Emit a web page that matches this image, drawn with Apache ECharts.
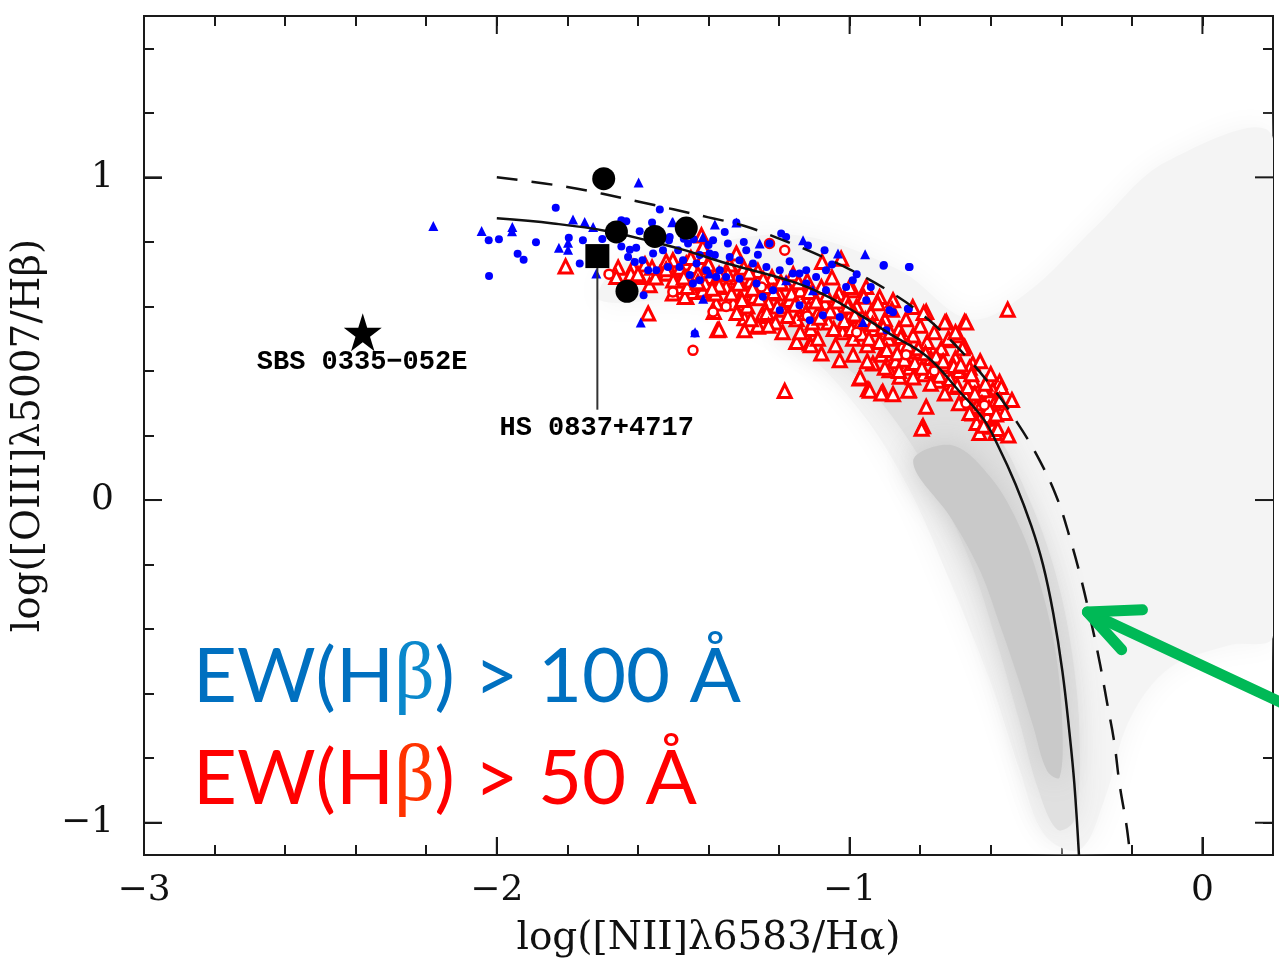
<!DOCTYPE html>
<html>
<head>
<meta charset="utf-8">
<script src="https://cdn.jsdelivr.net/npm/echarts@6/dist/echarts.min.js"></script>
<style>
  html, body { margin: 0; padding: 0; background: #fff; }
  #chartDiv { width: 1279px; height: 973px; }
</style>
</head>
<body>
<div id="chartDiv"></div>
<script>
// tick values
const xMajorTicks = [-3, -2, -1, 0];
const yMajorTicks = [-1, 0, 1];
const yMinorTicks = [-1, -0.8, -0.6, -0.4, -0.2, 0, 0.2, 0.4, 0.6, 0.8, 1, 1.2, 1.4];

// SDSS cloud, drawn as three density outlines (faint haze, band, core)
const cloudHaze = [[-1.708,0.619],[-1.425,0.619],[-1.170,0.495],[-0.972,0.279],[-0.830,0.031],[-0.717,-0.248],
  [-0.603,-0.557],[-0.518,-0.836],[-0.448,-1.037],[-0.348,-1.084],[-0.278,-0.929],[-0.207,-0.681],[-0.093,-0.52],
  [0.076,-0.45],[0.2,-0.42],[0.2,1.12],[-0.1,1.05],[-0.3,0.85],[-0.5,0.64],[-0.660,0.56],[-0.858,0.712],
  [-1.142,0.820],[-1.425,0.789],[-1.652,0.728]];
const cloudBand = [[-1.198,0.526],[-1.0,0.402],[-0.88,0.26],[-0.77,0.07],[-0.66,-0.186],[-0.585,-0.433],
  [-0.52,-0.681],[-0.465,-0.898],[-0.411,-1.022],[-0.363,-0.991],[-0.348,-0.743],[-0.371,-0.464],[-0.419,-0.217],
  [-0.490,0.0],[-0.589,0.217],[-0.717,0.372],[-0.887,0.495],[-1.057,0.573]];
const cloudCore = [[-0.82,0.12],[-0.71,-0.06],[-0.63,-0.22],[-0.57,-0.40],[-0.52,-0.56],[-0.48,-0.70],
  [-0.44,-0.84],[-0.405,-0.86],[-0.397,-0.70],[-0.415,-0.48],[-0.455,-0.28],[-0.515,-0.09],[-0.60,0.07],
  [-0.71,0.17]];
const cloudLayers = [cloudHaze, cloudBand, cloudCore];

// EW(Hb) > 50 A sample
const redTriangles = [
  [-1.805,0.724],[-1.656,0.72],[-1.661,0.691],[-1.614,0.722],[-1.595,0.691],[-1.567,0.666],[-1.538,0.702],[-1.501,0.722],
  [-1.482,0.66],[-1.463,0.629],[-1.444,0.645],[-1.42,0.82],[-1.387,0.64],[-1.378,0.609],[-1.571,0.578],[-1.375,0.526],
  [-1.51,0.712],[-1.463,0.733],[-1.415,0.753],[-1.406,0.722],[-1.397,0.691],[-1.37,0.528],[-1.385,0.583],[-1.501,0.64],
  [-1.467,0.629],[-1.416,0.65],[-1.519,0.702],[-1.482,0.681],[-1.444,0.722],[-1.501,0.743],[-1.416,0.784],[-1.321,0.764],
  [-1.024,0.748],[-1.078,0.738],[-1.298,0.563],[-1.298,0.526],[-1.26,0.537],[-1.184,0.338],[-1.151,0.49],[-1.113,0.485],
  [-1.08,0.454],[-1.028,0.433],[-0.972,0.377],[-0.948,0.343],[-0.906,0.335],[-0.877,0.328],[-0.832,0.341],[-0.792,0.229],
  [-0.783,0.289],[-0.934,0.423],[-0.887,0.402],[-0.858,0.382],[-0.821,0.598],[-0.783,0.583],[-0.726,0.552],[-0.674,0.552],
  [-0.693,0.511],[-0.717,0.495],[-0.674,0.475],[-0.651,0.423],[-0.552,0.59],[-0.575,0.366],[-0.594,0.341],[-0.603,0.32],
  [-0.651,0.268],[-0.632,0.248],[-0.603,0.258],[-0.594,0.227],[-0.877,0.619],[-0.915,0.629],[-0.953,0.66],[-0.991,0.65],
  [-0.943,0.339],[-0.833,0.339],[-0.796,0.221],[-0.640,0.239],[-0.601,0.252],[-0.587,0.208],[-0.632,0.208],
  [-1.62,0.70],[-1.58,0.73],[-1.55,0.69],[-1.52,0.74],[-1.50,0.68],[-1.48,0.72],[-1.46,0.66],[-1.45,0.75],[-1.43,0.70],
  [-1.41,0.67],[-1.40,0.73],[-1.38,0.64],[-1.37,0.70],[-1.35,0.66],[-1.34,0.73],[-1.33,0.61],[-1.32,0.69],[-1.30,0.65],
  [-1.30,0.72],[-1.29,0.60],[-1.28,0.68],[-1.27,0.63],[-1.26,0.71],[-1.25,0.57],[-1.24,0.66],[-1.23,0.61],[-1.22,0.69],
  [-1.21,0.55],[-1.20,0.64],[-1.19,0.59],[-1.18,0.67],[-1.17,0.62],[-1.16,0.70],[-1.15,0.56],[-1.14,0.65],[-1.13,0.60],
  [-1.12,0.68],[-1.11,0.53],[-1.10,0.63],[-1.09,0.58],[-1.08,0.66],[-1.07,0.61],[-1.06,0.55],[-1.05,0.69],[-1.04,0.59],
  [-1.03,0.64],[-1.02,0.52],[-1.01,0.62],[-1.00,0.57],[-1.00,0.66],[-0.99,0.50],[-0.98,0.60],[-0.97,0.55],[-0.96,0.63],
  [-0.95,0.48],[-0.94,0.58],[-0.93,0.53],[-0.92,0.61],[-0.91,0.45],[-0.90,0.56],[-0.89,0.50],[-0.88,0.59],[-0.87,0.43],
  [-0.86,0.53],[-0.85,0.48],[-0.84,0.56],[-0.83,0.41],[-0.82,0.51],[-0.81,0.46],[-0.80,0.54],[-0.79,0.39],[-0.78,0.49],
  [-0.77,0.44],[-0.76,0.52],[-0.75,0.37],[-0.74,0.47],[-0.73,0.42],[-0.72,0.50],[-0.71,0.35],[-0.70,0.44],[-0.69,0.40],
  [-0.68,0.47],[-0.67,0.32],[-0.66,0.41],[-0.65,0.37],[-0.64,0.29],[-0.63,0.43],[-0.62,0.34],[-0.61,0.26],[-0.60,0.39],
  [-0.59,0.30],[-0.58,0.22],[-0.57,0.35],[-0.56,0.27],[-0.55,0.20],[-0.54,0.31],
  [-1.26,0.54],[-1.15,0.49],[-1.11,0.48],[-0.97,0.38],[-0.91,0.33],[-0.70,0.52],[-0.67,0.55],[-0.73,0.55],[-0.79,0.58],
  [-1.345,0.70],[-1.335,0.64],[-1.315,0.67],[-1.305,0.62],[-1.285,0.705],[-1.275,0.655],[-1.255,0.625],[-1.245,0.685],
  [-1.235,0.58],[-1.215,0.645],[-1.205,0.60],[-1.195,0.675],[-1.175,0.57],[-1.165,0.64],[-1.155,0.605],[-1.145,0.675],
  [-1.125,0.58],[-1.115,0.645],[-1.105,0.55],[-1.095,0.615],[-1.085,0.565],[-1.065,0.635],[-1.055,0.585],[-1.045,0.53],
  [-1.035,0.615],[-1.015,0.555],[-1.005,0.60],[-0.995,0.53],[-0.985,0.575],[-0.965,0.515],[-0.955,0.56],[-0.945,0.50],
  [-0.935,0.545],[-0.915,0.49],[-0.905,0.535],[-0.895,0.465],[-0.885,0.52],[-0.865,0.455],[-0.855,0.505],[-0.845,0.435],
  [-0.835,0.48],[-0.815,0.425],[-0.805,0.47],[-0.795,0.41],[-0.785,0.455],[-0.765,0.40],[-0.755,0.445],[-0.745,0.385],
  [-0.735,0.43],[-0.715,0.375],[-0.705,0.415],[-0.695,0.355],[-0.685,0.42],[-0.665,0.35],[-0.655,0.39],[-0.645,0.33],
  [-0.625,0.30],[-0.615,0.36],[-0.605,0.285],[-0.585,0.265],[-0.575,0.31],[-1.37,0.665],[-1.39,0.655],[-1.43,0.675],
  [-1.47,0.69],[-1.52,0.715],[-1.56,0.72],[-1.60,0.70],
  [-1.32,0.58],[-1.28,0.56],[-1.23,0.54],[-1.19,0.52],[-1.14,0.52],[-1.09,0.50],[-1.04,0.48],[-0.99,0.45],[-0.95,0.43],
  [-0.90,0.41],[-0.86,0.40],[-0.82,0.38],[-0.77,0.36],[-0.73,0.33],[-0.69,0.30],[-0.66,0.27],[-0.62,0.23]
];
const redCircles = [[-1.682,0.70],[-1.501,0.645],[-1.387,0.583],[-1.444,0.464],[-1.184,0.774],[-1.227,0.795],
  [-0.618,0.294],[-1.35,0.60],[-1.25,0.66],[-1.12,0.57],[-0.98,0.52],[-0.84,0.45],[-0.76,0.40],[-0.67,0.30]];

// EW(Hb) > 100 A sample
const blueTriangles = [[-2.18,0.849],[-2.043,0.834],[-1.956,0.846],[-1.957,0.833],[-1.784,0.869],[-1.751,0.862],
  [-1.727,0.846],[-1.824,0.782],[-1.798,0.797],[-1.798,0.776],[-1.718,0.702],[-1.598,0.984],[-1.503,0.861],[-1.382,0.854],
  [-1.592,0.55],[-1.438,0.52],[-1.415,0.624],[-1.501,0.862],[-1.416,0.815],[-1.321,0.86],[-1.255,0.795],[-1.132,0.805],
  [-1.033,0.764],[-0.956,0.762],[-1.180,0.681],[-1.104,0.65],[-0.962,0.552],[-1.397,0.702]];
const blueDots = [[-2.023,0.805],[-1.994,0.808],[-1.889,0.799],[-1.941,0.763],[-1.924,0.745],[-2.022,0.694],
  [-1.833,0.906],[-1.538,0.90],[-1.796,0.813],[-1.756,0.805],[-1.701,0.809],[-1.647,0.867],[-1.633,0.864],[-1.595,0.833],
  [-1.56,0.86],[-1.647,0.786],[-1.623,0.776],[-1.605,0.782],[-1.628,0.753],[-1.609,0.738],[-1.587,0.743],[-1.584,0.635],
  [-1.765,0.733],[-1.512,0.805],[-1.486,0.774],[-1.515,0.722],[-1.472,0.743],[-1.434,0.733],[-1.453,0.697],[-1.425,0.681],
  [-1.397,0.764],[-1.387,0.805],[-1.442,0.808],[-1.406,0.712],[-1.378,0.691],[-1.557,0.764],[-1.548,0.712],[-1.571,0.712],
  [-1.321,0.86],[-1.354,0.831],[-1.345,0.795],[-1.382,0.759],[-1.425,0.759],[-1.293,0.774],[-1.227,0.795],[-1.194,0.826],
  [-1.18,0.815],[-1.118,0.789],[-1.071,0.774],[-0.903,0.728],[-0.832,0.722],[-1.34,0.753],[-1.312,0.743],[-1.274,0.733],
  [-1.236,0.722],[-1.198,0.712],[-1.161,0.702],[-1.123,0.712],[-1.095,0.691],[-1.067,0.712],[-1.35,0.691],[-1.312,0.686],
  [-1.264,0.671],[-1.246,0.63],[-1.217,0.65],[-1.142,0.702],[-1.123,0.671],[-1.067,0.65],[-1.01,0.66],[-0.991,0.681],
  [-0.953,0.619],[-0.887,0.588],[-0.835,0.593],[-1.198,0.588],[-1.142,0.604],[-1.076,0.573],[-1.113,0.557],[-1.028,0.567],
  [-0.896,0.526],[-1.439,0.516],[-1.51,0.815],[-1.529,0.774],[-1.458,0.795],[-1.482,0.722],[-1.444,0.671],[-1.368,0.712],
  [-0.904,0.726],[-0.830,0.722],[-0.877,0.582],[-0.832,0.592],
  [-1.30,0.80],[-1.26,0.76],[-1.17,0.74],[-1.05,0.73],[-0.98,0.70],[-0.94,0.66],[-1.40,0.79],[-1.47,0.81]];

// named objects
const bigCircles = [[-1.697,0.996],[-1.661,0.831],[-1.552,0.817],[-1.463,0.843],[-1.631,0.647]];
const hsSquare = [[-1.715,0.756]];
const sbsStar = [[-2.38,0.52]];
const hsLeader = [[-1.715,0.756],[-1.715,0.28]];
const objectLabels = [[-2.382,0.427,'SBS 0335\u2212052E'],[-1.717,0.223,'HS 0837+4717']];

// demarcation curves
const solidCurve = [[-2.00,0.873],[-1.84,0.857],[-1.69,0.834],[-1.55,0.798],[-1.46,0.772],[-1.36,0.737],[-1.16,0.676],
  [-1.07,0.635],[-0.97,0.573],[-0.88,0.511],[-0.78,0.444],[-0.69,0.338],[-0.62,0.25],[-0.58,0.17],[-0.53,0.05],
  [-0.485,-0.08],[-0.452,-0.2],[-0.423,-0.35],[-0.397,-0.53],[-0.377,-0.72],[-0.363,-0.88],[-0.35,-1.1]];
const dashedCurve = [[-2.00,1.00],[-1.80,0.97],[-1.60,0.925],[-1.40,0.876],[-1.30,0.85],[-1.20,0.81],[-1.10,0.765],
  [-1.00,0.715],[-0.90,0.655],[-0.80,0.58],[-0.70,0.48],[-0.60,0.355],[-0.525,0.24],[-0.46,0.12],[-0.41,0.0],
  [-0.375,-0.12],[-0.345,-0.24],[-0.315,-0.38],[-0.29,-0.51],[-0.27,-0.63],[-0.25,-0.75],[-0.235,-0.88],[-0.215,-1.01],
  [-0.205,-1.1]];

// green arrow annotation
const arrowShaft = [[-0.326,-0.347],[0.224,-0.628]];
const arrowHead = [[-0.17,-0.34],[-0.326,-0.347],[-0.229,-0.464]];

const X_MIN = -3, X_MAX = 0.2, Y_MIN = -1.1, Y_MAX = 1.5;

const chart = echarts.init(document.getElementById('chartDiv'));

const SERIF = 'DejaVu Serif';
const AXIS_COLOR = '#1a1a1a';
const MAJOR_LEN = 18;
const cloudFills = ['#f4f4f4', '#e0e0e0', '#c9c9c9'];

function fmtTick(v) {
  return v < 0 ? '\u2212' + Math.abs(v) : String(v);
}

function renderCloud(params, api) {
  const poly = cloudLayers[params.dataIndex];
  const pts = poly.map(p => api.coord(p));
  const fill = cloudFills[params.dataIndex];
  return {
    type: 'polygon',
    shape: { points: pts, smooth: 0.35 },
    style: { fill: fill, shadowBlur: 30, shadowColor: fill }
  };
}

// long ticks on all four sides of the frame
function renderMajorTicks(params, api) {
  const st = { stroke: AXIS_COLOR, lineWidth: 2 };
  const children = [];
  xMajorTicks.forEach(v => {
    const b = api.coord([v, Y_MIN]);
    const t = api.coord([v, Y_MAX]);
    children.push({ type: 'line', shape: { x1: b[0], y1: b[1], x2: b[0], y2: b[1] - MAJOR_LEN }, style: st });
    children.push({ type: 'line', shape: { x1: t[0], y1: t[1], x2: t[0], y2: t[1] + MAJOR_LEN }, style: st });
  });
  yMajorTicks.forEach(v => {
    const l = api.coord([X_MIN, v]);
    const r = api.coord([X_MAX, v]);
    children.push({ type: 'line', shape: { x1: l[0], y1: l[1], x2: l[0] + MAJOR_LEN, y2: l[1] }, style: st });
    children.push({ type: 'line', shape: { x1: r[0], y1: r[1], x2: r[0] - MAJOR_LEN, y2: r[1] }, style: st });
  });
  return { type: 'group', children: children };
}

// axes only carry ticks/labels; the frame itself is the grid border
function xTickAxis(position, interval, len, extra) {
  return Object.assign({
    type: 'value', position: position, min: X_MIN, max: X_MAX, interval: interval,
    splitLine: { show: false },
    axisLine: { show: false, onZero: false },
    axisLabel: { show: false },
    axisTick: { show: true, inside: true, length: len, lineStyle: { color: AXIS_COLOR, width: 2 } }
  }, extra || {});
}

function yTickAxis(position, ticks, len, extra) {
  return Object.assign({
    type: 'value', position: position, min: Y_MIN, max: Y_MAX,
    splitLine: { show: false },
    axisLine: { show: false, onZero: false },
    axisLabel: { show: false },
    axisTick: {
      show: true, inside: true, length: len, customValues: ticks,
      lineStyle: { color: AXIS_COLOR, width: 2 }
    }
  }, extra || {});
}

const option = {
  animation: false,
  backgroundColor: '#fff',
  grid: {
    left: 144, right: 6, top: 16, bottom: 118, containLabel: false,
    show: true, borderColor: AXIS_COLOR, borderWidth: 2, backgroundColor: 'transparent'
  },
  xAxis: [
    xTickAxis('bottom', 0.2, 10),
    xTickAxis('bottom', 1, MAJOR_LEN, {
      axisLabel: {
        show: true, showMaxLabel: false, formatter: fmtTick, margin: 18,
        fontFamily: SERIF, fontSize: 36, color: '#111'
      },
      name: 'log([NII]\u03bb6583/H\u03b1)',
      nameLocation: 'middle',
      nameGap: 64,
      nameTextStyle: { fontFamily: SERIF, fontSize: 39, color: '#111' }
    }),
    xTickAxis('top', 0.2, 10)
  ],
  yAxis: [
    yTickAxis('left', yMinorTicks, 10),
    yTickAxis('left', yMajorTicks, MAJOR_LEN, {
      axisLabel: {
        show: true, customValues: yMajorTicks, formatter: fmtTick, margin: 30,
        fontFamily: SERIF, fontSize: 36, color: '#111'
      },
      name: 'log([OIII]\u03bb5007/H\u03b2)',
      nameLocation: 'middle',
      nameRotate: 90,
      nameGap: 96,
      nameTextStyle: { fontFamily: SERIF, fontSize: 39, color: '#111' }
    }),
    yTickAxis('right', yMinorTicks, 10)
  ],
  series: [
    {
      type: 'custom', name: 'SDSS', renderItem: renderCloud, clip: true, silent: true, z: 1,
      data: cloudLayers.map(l => l[0])
    },
    {
      type: 'scatter', name: 'EW50 tri', data: redTriangles, symbol: 'triangle', symbolSize: 13, z: 2,
      itemStyle: { color: '#fff', borderColor: '#ff0000', borderWidth: 3, opacity: 1 }
    },
    {
      type: 'scatter', name: 'EW50 circ', data: redCircles, symbol: 'circle', symbolSize: 9, z: 2,
      itemStyle: { color: '#fff', borderColor: '#ff0000', borderWidth: 2.5, opacity: 1 }
    },
    {
      type: 'scatter', name: 'EW100 dot', data: blueDots, symbol: 'circle', symbolSize: 8, z: 3,
      itemStyle: { color: '#0000ff', opacity: 1 }
    },
    {
      type: 'scatter', name: 'EW100 tri', data: blueTriangles, symbol: 'triangle', symbolSize: 10, z: 3,
      itemStyle: { color: '#0000ff', opacity: 1 }
    },
    {
      type: 'line', name: 'solid', data: solidCurve, showSymbol: false, smooth: 0.4, z: 4, silent: true,
      lineStyle: { color: '#111', width: 2.5 }
    },
    {
      type: 'line', name: 'dashed', data: dashedCurve, showSymbol: false, smooth: 0.4, z: 4, silent: true,
      lineStyle: { color: '#111', width: 2.5, type: [21, 14] }
    },
    {
      type: 'line', name: 'leader', data: hsLeader, showSymbol: false, z: 5, silent: true,
      lineStyle: { color: '#333', width: 2 }
    },
    {
      type: 'scatter', name: 'objects', data: bigCircles, symbol: 'circle', symbolSize: 23, z: 6,
      itemStyle: { color: '#000', opacity: 1 }
    },
    {
      type: 'scatter', name: 'HS 0837', data: hsSquare, symbol: 'rect', symbolSize: 24, z: 6,
      itemStyle: { color: '#000', opacity: 1 }
    },
    {
      type: 'scatter', name: 'SBS 0335', data: sbsStar, z: 6,
      symbol: 'path://M50,0 L61.2,34.5 L97.6,34.5 L68.2,55.9 L79.4,90.5 L50,69.1 L20.6,90.5 L31.8,55.9 L2.4,34.5 L38.8,34.5 Z',
      symbolSize: 38, itemStyle: { color: '#000', opacity: 1 }
    },
    {
      type: 'scatter', name: 'labels', data: objectLabels, symbolSize: 0, z: 7, silent: true,
      itemStyle: { color: 'transparent', opacity: 1 },
      label: {
        show: true, position: 'inside', formatter: p => p.value[2],
        fontFamily: 'Liberation Mono', fontSize: 27, fontWeight: 'bold', color: '#000'
      }
    },
    {
      type: 'line', name: 'arrow', data: arrowShaft, showSymbol: false, clip: false, z: 8, silent: true,
      lineStyle: { color: '#00b956', width: 11, cap: 'round', join: 'round' }
    },
    {
      type: 'line', name: 'arrowhead', data: arrowHead, showSymbol: false, clip: false, z: 8, silent: true,
      lineStyle: { color: '#00b956', width: 11, cap: 'round', join: 'round' }
    },
    {
      type: 'custom', name: 'frameTicks', renderItem: renderMajorTicks, clip: false, silent: true, z: 9,
      data: [[X_MIN, Y_MIN]]
    }
  ],
  graphic: [
    {
      type: 'text', left: 193, top: 637, z: 10, silent: true,
      style: {
        text: '{a|EW(H}{b|\u03b2}{a|) > 100 \u00c5}',
        rich: {
          a: { fontFamily: 'Lato', fontSize: 76, fill: '#0070c0' },
          b: { fontFamily: 'Liberation Serif', fontSize: 80, fill: '#0a88cc' }
        }
      }
    },
    {
      type: 'text', left: 193, top: 739, z: 10, silent: true,
      style: {
        text: '{a|EW(H}{b|\u03b2}{a|) > 50 \u00c5}',
        rich: {
          a: { fontFamily: 'Lato', fontSize: 76, fill: '#ff0000' },
          b: { fontFamily: 'Liberation Serif', fontSize: 80, fill: '#ff3300' }
        }
      }
    }
  ]
};

chart.setOption(option);
</script>
</body>
</html>
